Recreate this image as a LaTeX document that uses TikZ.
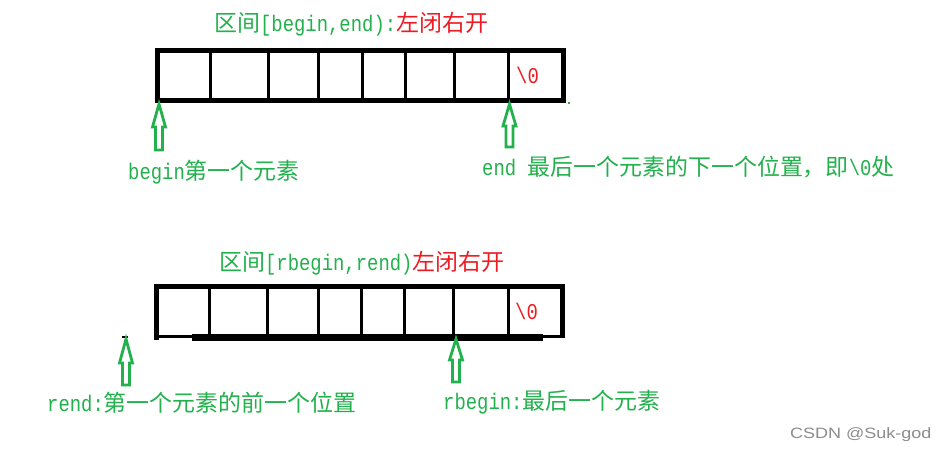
\documentclass[tikz,border=0pt]{standalone}
\usepackage{fontspec}
\setmainfont{Liberation Mono}[FakeStretch=0.84]
\newfontfamily\zh{Noto Sans CJK SC}[Scale=1.02]
\newfontfamily\wmfont{Liberation Sans}
\definecolor{pgreen}{RGB}{34,177,76}
\definecolor{pred}{RGB}{237,28,36}
\definecolor{wgray}{RGB}{140,140,140}
\tikzset{
  txt/.style={anchor=west, inner sep=0pt, font=\fontsize{22.5}{26}\selectfont, text=pgreen},
  zero/.style={anchor=west, inner sep=0pt, font=\fontsize{22.5}{26}\selectfont, text=pred},
  hollow/.style={draw=pgreen, line width=2.8pt, line join=miter, fill=white},
}
% hollow arrow: x, y of tip, y of head base, y of bottom
\newcommand\harrow[4]{%
  \draw[hollow] (#1,#2) -- (#1-6.5,#3) -- (#1-3.5,#3) -- (#1-3.5,#4) -- (#1+3.5,#4)
    -- (#1+3.5,#3) -- (#1+6.5,#3) -- cycle;}
\begin{document}
\begin{tikzpicture}[x=1pt,y=-1pt]
\useasboundingbox (0,0) rectangle (947,455);
\fill[white] (0,0) rectangle (947,455);

% ---------- top array ----------
\fill[black] (155,48) rectangle (566,53);
\fill[black] (155,98) rectangle (566,103);
\fill[black] (155,48) rectangle (160,103);
\fill[black] (561,48) rectangle (566,103);
\foreach \x in {210.5,268,318.5,362,405.5,454.5,508.5}
  \fill[black] (\x-1.5,50) rectangle (\x+1.5,100);
\node[zero] (z1) at (516,75) {\textbackslash0};
\fill[pgreen] (568,102) rectangle (570,104);

\node[txt] (t1) at (214,24) {{\zh 区间}[begin,end):{\zh\color{pred}左闭右开}};

\harrow{159}{104}{127}{150}
\harrow{509.5}{104}{126}{147}
\node[txt] (l1) at (128,172) {begin{\zh 第一个元素}};
\node[txt] (l2) at (482,167) {end {\zh 最后一个元素的下一个位置，即}\textbackslash0{\zh 处}};

% ---------- bottom array ----------
\fill[black] (154,284) rectangle (565,289);
\fill[black] (154,284) rectangle (159,340);
\fill[black] (560,284) rectangle (565,338);
\fill[black] (154,335) rectangle (565,338);
\fill[black] (192,334) rectangle (543,341);
\foreach \x in {209.5,267,318,361.5,404.5,453.5,508}
  \fill[black] (\x-1.5,286) rectangle (\x+1.5,336);
\node[zero] (z2) at (515,311) {\textbackslash0};

\node[txt] (t2) at (219,263) {{\zh 区间}[rbegin,rend){\zh\color{pred}左闭右开}};

\fill[black] (122,336) rectangle (128,338);
\harrow{126}{339}{363}{385}
\harrow{456}{339}{360}{382}
\node[txt] (l3) at (47,403) {rend:{\zh 第一个元素的前一个位置}};
\node[txt] (l4) at (443,402) {rbegin:{\zh 最后一个元素}};

% watermark
\node[anchor=west, inner sep=0pt, text=wgray, font=\wmfont\fontsize{15}{18}\selectfont] (wm) at (790,435) {\scalebox{1.2}[1]{CSDN @Suk-god}};
\end{tikzpicture}
\end{document}
